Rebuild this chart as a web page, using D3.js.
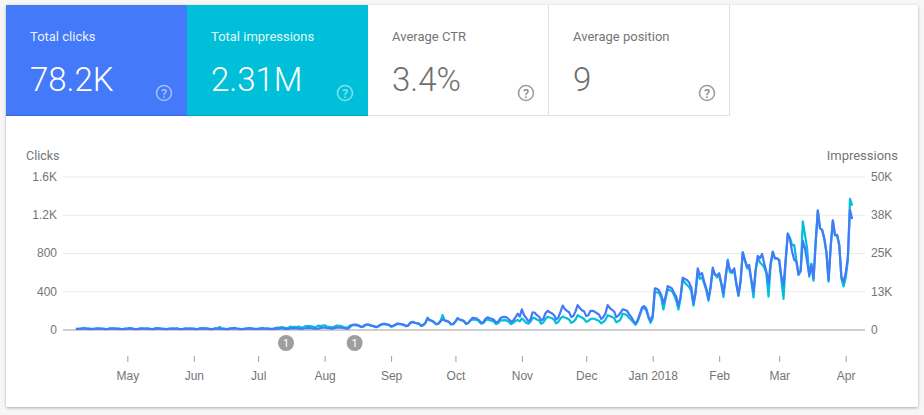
<!DOCTYPE html>
<html><head><meta charset="utf-8">
<script src="https://cdn.jsdelivr.net/npm/d3@7"></script>
<style>
html,body{margin:0;padding:0;background:#f6f6f6;width:924px;height:415px;overflow:hidden}
svg{display:block;font-family:Roboto,sans-serif}
</style></head><body>
<svg id="c" width="924" height="415"></svg>
<script>
const startDate = "2017-04-07";
const clicks = [6,5,7,
9,8,8,7,4,5,8, 10,9,8,6,4,6,9, 9,10,7,7,5,4,8, 8,12,9,6,4,5,9,
10,8,9,7,5,4,9, 11,10,7,6,4,6,8, 9,8,10,6,4,5,9, 7,9,8,7,4,5,9,
11,10,9,6,3,5,9, 9,8,7,8,4,4,10, 9,14,8,6,4,5,8, 10,11,9,6,5,6,9,
12,8,9,7,5,6,10, 11,10,13,9,6,7,11, 14,12,11,10,7,8,13, 16,15,13,10,8,9,14,
19,21,16,13,9,10,17, 22,18,20,15,8,9,30, 48,52,50,42,28,32,50, 55,48,40,36,25,35,50,
58,60,55,50,32,38,52, 62,60,56,50,36,44,72, 80,72,66,62,40,48,70, 115,100,92,78,58,62,88,
104,96,90,80,55,60,84, 115,105,100,88,60,72,98, 122,120,115,96,70,78,110, 128,118,112,100,72,85,118,
130,132,125,105,80,95,128, 165,135,210,150,120,85,105, 180,175,150,135,95,110,170, 195,180,170,150,105,125,185,
250,215,195,180,130,140,190, 255,225,200,190,140,150,195, 195,185,170,155,110,130,170, 255,225,205,190,130,145,175,
210,205,195,160,130,90,60, 100,160,230,245,220,140,90,
150,430,425,406,360,273,343, 455,441,430,378,343,245,343, 543,528,518,490,440,270,400, 640,570,590,500,430,320,450,
647,570,570,588,483,378,550, 717,623,605,640,483,360,518, 805,728,658,675,518,395,623, 770,745,790,693,605,483,693,
815,745,745,728,553,465,728, 1000,945,815,728,711,578,616, 927,850,710,570,675,535,903, 1246,1060,1043,955,815,518,868,
1141,990,990,885,553,500,588, 763,1250,1155];
const impressions = [250,220,280,
340,540,320,280,180,200,300, 350,330,300,250,170,230,340, 360,380,290,270,200,170,310, 320,470,350,240,160,200,340,
380,310,340,280,190,160,350, 420,390,290,240,170,230,310, 340,320,390,240,170,190,340, 300,360,310,270,170,200,360,
430,380,340,250,140,200,350, 370,880,280,310,170,180,390, 350,520,320,240,170,210,320, 400,430,360,250,200,240,350,
560,330,350,290,220,250,450, 620,600,820,630,450,520,950, 800,900,780,980,620,700,1100, 1150,1090,1030,820,760,1260,1150,
1250,1400,980,880,700,760,1100, 1260,1230,1050,760,580,820,1320, 1390,1400,1350,1160,790,910,1380, 1560,1380,1130,1000,720,1000,1380,
1680,1720,1560,1440,940,1060,1500, 1810,1750,1620,1440,1060,1280,2100, 2440,2190,2000,1880,1190,1440,2060, 3900,3000,2810,2310,1690,1810,2560,
4690,2880,2690,2380,1630,1750,2500, 3750,3190,3000,2630,1810,2130,2940, 3300,3250,3130,2630,1880,2060,2940, 3280,3000,2880,2500,1750,2130,3000,
3000,3060,2880,2380,1750,2190,2810, 3130,2660,3590,2970,2190,1880,2500, 3810,3690,3280,2970,1880,2340,3440, 4160,3910,3690,3130,2030,2500,3590,
4220,3910,3690,3280,2190,2500,3280, 4690,4220,3910,3440,2500,2810,3440, 3590,3440,3130,2810,2030,2500,3130, 4690,4380,4060,3750,2340,2660,3280,
5160,5000,4690,3750,3130,2340,1560, 2660,4690,6720,7030,6250,3910,2190,
3750,12340,12190,11880,10310,6560,10000, 13130,12810,12500,11250,9380,6560,10310, 16250,15310,14530,13900,12500,7810,11880, 18750,16560,17030,15000,12810,9380,13440,
19530,18130,17030,17810,14690,10630,16880, 22810,18750,18440,19380,14690,10940,15630, 25310,22500,20000,20000,15630,10470,19060, 23440,21880,21250,20310,18440,10720,20940,
25310,23130,23280,22500,16250,10000,22190, 31410,30000,27500,27660,22500,17810,19060, 35310,30940,26560,17280,21560,15940,28750, 38750,33130,32500,29690,25000,15630,26880,
35470,30780,30780,27500,16560,14060,16880, 22500,42660,40470];
const clickTicks = [0,400,800,1200,1600];
const clickTickLabels = ["0","400","800","1.2K","1.6K"];
const imprTicks = [0,12500,25000,37500,50000];
const imprTickLabels = ["0","13K","25K","38K","50K"];
const monthTicks = ["2017-05-01","2017-06-01","2017-07-01","2017-08-01","2017-09-01","2017-10-01","2017-11-01","2017-12-01","2018-01-01","2018-02-01","2018-03-01","2018-04-01"];
const monthLabels = ["May","Jun","Jul","Aug","Sep","Oct","Nov","Dec","Jan 2018","Feb","Mar","Apr"];
const eventDates = ["2017-07-14","2017-08-15"];
const eventLabels = ["1","1"];
const tileLabels = ["Total clicks","Total impressions","Average CTR","Average position"];
const tileValues = ["78.2K","2.31M","3.4%","9"];
const tileFills = ["#4479f9","#00c0d9","#ffffff","#ffffff"];
const blue="#4479f9", teal="#00c0d9";

const svg=d3.select("#c");
const defs=svg.append("defs");
const f=defs.append("filter").attr("id","sh").attr("x","-2%").attr("y","-2%").attr("width","104%").attr("height","105%");
f.append("feDropShadow").attr("dx",0).attr("dy",1).attr("stdDeviation",1.5).attr("flood-color","#000").attr("flood-opacity",.3);
svg.append("rect").attr("x",6).attr("y",5).attr("width",912).attr("height",402).attr("rx",2).attr("fill","#fff").attr("filter","url(#sh)");

const tw=181, tx=i=>6+i*tw;
const tiles=svg.selectAll("g.tile").data(tileLabels).join("g").attr("class","tile").attr("transform",(d,i)=>`translate(${tx(i)},5)`);
tiles.append("rect").attr("x",(d,i)=>i<2?0:0.5).attr("y",0).attr("width",(d,i)=>i<2?tw:tw-0.5).attr("height",111)
  .attr("fill",(d,i)=>tileFills[i]);
tiles.filter((d,i)=>i<2).append("rect").attr("y",110).attr("width",tw).attr("height",1).attr("fill",(d,i)=>i==0?"#3a68d8":"#00a6bc");
tiles.filter((d,i)=>i>=2).append("path").attr("d",`M${tw-0.5} 0V110.5H0`).attr("fill","none").attr("stroke","#e0e0e0");
tiles.append("text").attr("x",24).attr("y",36).attr("font-size",13)
  .attr("fill",(d,i)=>i<2?"#fff":"#757575").attr("fill-opacity",(d,i)=>i<2?.92:1).text(d=>d);
tiles.append("text").attr("x",24).attr("y",86).attr("font-size",33).attr("font-weight",300)
  .attr("fill",(d,i)=>i<2?"#fff":"#6e6e6e").text((d,i)=>tileValues[i]);
const help=tiles.append("g").attr("transform",`translate(158,88)`);
help.append("circle").attr("r",7.5).attr("fill","none").attr("stroke-width",1.6)
  .attr("stroke",(d,i)=>i<2?"rgba(255,255,255,.5)":"#9e9e9e");
help.append("text").attr("y",4.5).attr("text-anchor","middle").attr("font-size",12.5).attr("font-weight",500)
  .attr("fill",(d,i)=>i<2?"rgba(255,255,255,.55)":"#8a8a8a").text("?");

const parse=d3.utcParse("%Y-%m-%d");
const x=d3.scaleUtc().domain([parse("2017-04-01"),parse("2018-04-10")]).range([63,865]);
const yC=d3.scaleLinear().domain([0,1600]).range([329.5,176.5]);
const yI=d3.scaleLinear().domain([0,50000]).range([329.5,176.5]);
const day=i=>d3.utcDay.offset(parse(startDate),i);

const gl=svg.append("g").attr("transform","translate(63,0)")
  .call(d3.axisLeft(yC).tickValues(clickTicks).tickFormat((d,i)=>clickTickLabels[i]).tickSize(-802).tickPadding(6));
gl.select(".domain").remove();
gl.selectAll("line").attr("stroke",d=>d===0?"#9e9e9e":"#eaeaea");
gl.selectAll("text").attr("fill","#757575").attr("font-size",12);
const gr=svg.append("g").attr("transform","translate(865,0)")
  .call(d3.axisRight(yI).tickValues(imprTicks).tickFormat((d,i)=>imprTickLabels[i]).tickSize(0).tickPadding(6));
gr.select(".domain").remove();
gr.selectAll("text").attr("fill","#757575").attr("font-size",12);
const gx=svg.append("g").attr("transform","translate(0,356)")
  .call(d3.axisBottom(x).tickValues(monthTicks.map(parse)).tickFormat((d,i)=>monthLabels[i]).tickSize(6).tickPadding(9));
gx.select(".domain").remove();
gx.selectAll("line").attr("stroke","#9e9e9e");
gx.selectAll("text").attr("fill","#757575").attr("font-size",12);

svg.append("text").attr("x",26).attr("y",160).attr("font-size",12.5).attr("fill","#757575").text("Clicks");
svg.append("text").attr("x",898).attr("y",160).attr("text-anchor","end").attr("font-size",13).attr("fill","#757575").text("Impressions");

svg.append("path").datum(impressions).attr("fill","none").attr("stroke",teal).attr("stroke-width",2.2).attr("stroke-linejoin","round")
  .attr("d",d3.line().x((d,i)=>x(day(i))).y(d=>yI(d)));
svg.append("path").datum(clicks).attr("fill","none").attr("stroke",blue).attr("stroke-width",2.2).attr("stroke-linejoin","round")
  .attr("d",d3.line().x((d,i)=>x(day(i))).y(d=>yC(d)));

const ev=svg.selectAll("g.ev").data(eventDates).join("g").attr("class","ev").attr("transform",d=>`translate(${x(parse(d))},343)`);
ev.append("circle").attr("r",8).attr("fill","#9e9e9e");
ev.append("text").attr("y",4).attr("text-anchor","middle").attr("font-size",11).attr("fill","#fff").text((d,i)=>eventLabels[i]);
</script></body></html>
